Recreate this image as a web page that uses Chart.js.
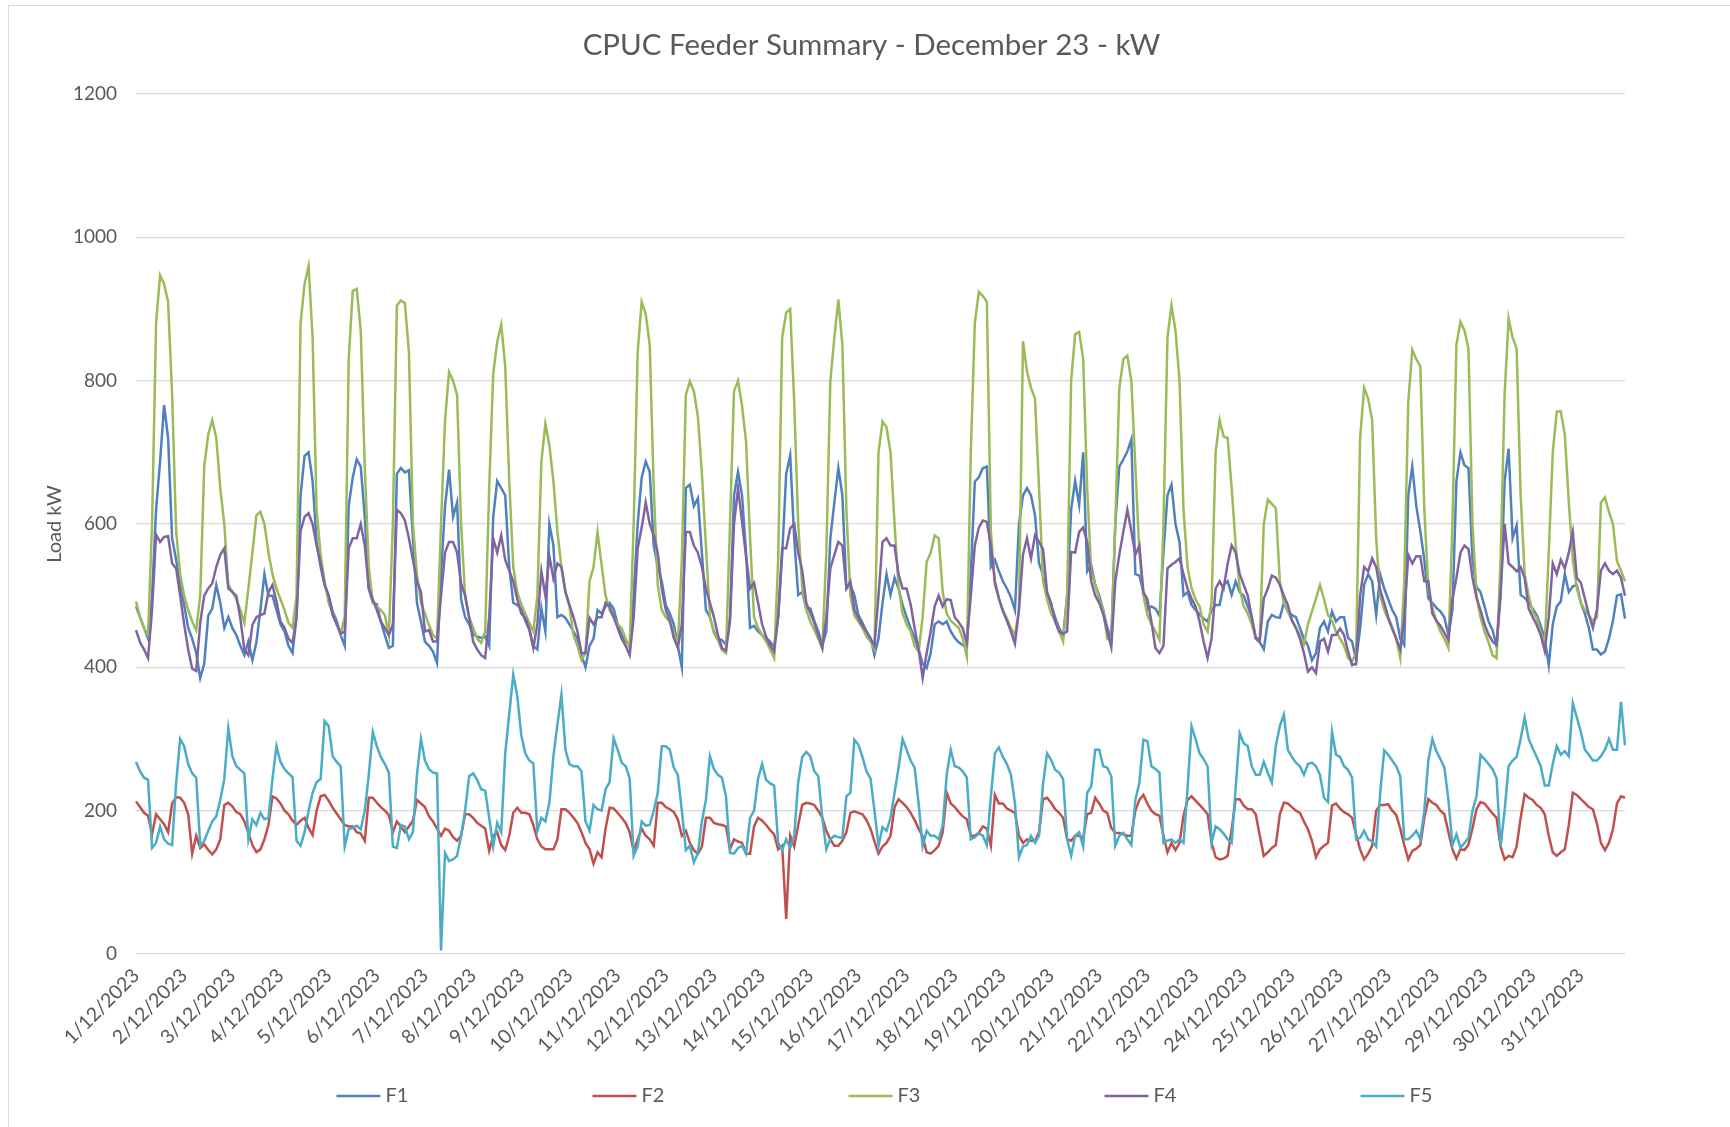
<!DOCTYPE html>
<html>
<head>
<meta charset="utf-8">
<title>CPUC Feeder Summary - December 23 - kW</title>
<script src="https://cdn.jsdelivr.net/npm/chart.js@4.4.0/dist/chart.umd.min.js"></script>
<style>
  html, body { margin: 0; padding: 0; background: #fff; overflow: hidden; }
  #frame { position: absolute; left: 8px; top: 5px; width: 1760px; height: 1160px; border: 1px solid #d9d9d9; box-sizing: border-box; }
  #wrap { position: absolute; left: 0; top: 0; width: 1730px; height: 1127px; }
</style>
</head>
<body>
<div id="frame"></div>
<div id="wrap"><canvas id="chart"></canvas></div>
<script>
// one label per day, data every 2 hours (12 readings per day)
const days = ['1/12/2023','2/12/2023','3/12/2023','4/12/2023','5/12/2023','6/12/2023','7/12/2023','8/12/2023',
  '9/12/2023','10/12/2023','11/12/2023','12/12/2023','13/12/2023','14/12/2023','15/12/2023','16/12/2023',
  '17/12/2023','18/12/2023','19/12/2023','20/12/2023','21/12/2023','22/12/2023','23/12/2023','24/12/2023',
  '25/12/2023','26/12/2023','27/12/2023','28/12/2023','29/12/2023','30/12/2023','31/12/2023'];
const hours = ['00','02','04','06','08','10','12','14','16','18','20','22'];

const f1 = [
  485,470,455,440,500,620,687,766,720,580,550,515,
  487,455,440,420,385,405,472,482,515,490,455,470,
  455,445,430,417,436,410,435,480,530,500,500,480,
  460,450,430,420,470,640,695,700,660,575,540,515,
  500,478,465,445,430,625,665,690,680,610,510,490,
  488,464,445,427,430,670,678,672,675,580,490,464,
  436,430,422,406,530,625,676,610,630,495,470,460,
  446,443,441,443,430,610,660,650,640,540,490,487,
  482,465,452,430,425,482,450,600,570,470,473,469,
  460,450,440,417,400,430,440,480,475,485,490,482,
  460,445,436,431,500,600,665,687,673,570,540,520,
  487,475,460,430,400,650,655,625,636,560,480,470,
  450,440,438,432,470,640,673,640,560,455,458,450,
  445,441,436,428,470,557,670,696,580,501,505,482,
  482,465,450,431,450,580,630,678,640,510,515,500,
  473,462,450,441,417,440,490,530,501,525,510,487,
  470,455,441,425,405,399,420,460,464,460,464,450,
  441,435,431,428,530,659,665,678,680,540,550,534,
  520,510,498,480,600,640,650,640,612,545,529,500,
  487,470,455,443,500,620,660,627,700,534,543,515,
  500,480,455,440,600,680,690,701,718,530,528,505,
  480,485,482,472,560,640,655,600,575,500,505,487,
  480,474,468,464,480,487,487,515,520,501,520,505,
  500,485,470,440,435,425,464,473,470,469,490,478,
  473,470,455,440,430,410,420,455,464,450,478,464,
  470,470,441,436,410,454,515,530,520,473,530,510,
  495,480,470,440,431,640,680,625,590,550,496,490,
  483,478,470,445,480,660,700,682,678,550,512,505,
  485,464,452,430,500,660,705,580,598,501,497,490,
  482,473,458,440,403,460,485,492,530,505,513,515,
  490,475,455,425,425,418,422,440,465,500,502,468
];

const f2 = [
  213,205,197,193,167,195,188,181,170,210,219,218,
  211,195,140,165,148,153,145,139,146,160,208,211,
  206,198,195,185,169,152,142,146,160,180,220,217,
  210,200,195,186,180,186,190,176,166,200,220,222,
  214,204,196,188,180,178,178,170,168,158,218,218,
  211,205,200,194,170,185,178,170,178,186,215,210,
  205,192,185,175,165,175,172,163,158,165,195,195,
  190,183,179,175,144,165,170,152,145,165,197,204,
  197,197,195,180,160,150,146,146,146,160,202,202,
  197,190,183,170,155,146,126,142,135,175,204,203,
  197,190,183,170,144,160,175,165,160,151,211,211,
  205,202,198,188,165,172,155,145,140,150,190,190,
  183,181,180,178,146,160,157,155,140,140,178,190,
  186,180,173,167,146,151,49,165,150,180,208,211,
  210,208,200,190,172,160,151,151,158,170,197,199,
  197,195,187,175,157,140,150,155,165,205,216,211,
  205,197,187,175,164,142,140,145,151,170,225,210,
  205,198,192,188,165,165,169,178,175,151,222,210,
  210,203,200,197,165,155,160,158,158,170,216,218,
  211,202,197,190,160,158,165,165,162,195,197,218,
  210,200,197,176,169,169,167,165,165,200,215,222,
  210,200,195,193,165,142,155,145,155,193,215,220,
  214,208,202,195,155,135,132,133,137,174,216,216,
  207,202,202,195,165,137,142,148,152,195,211,210,
  205,200,197,185,174,158,135,146,151,155,207,210,
  203,198,195,190,167,146,132,140,151,200,208,208,
  209,200,194,175,152,132,144,147,152,190,216,211,
  208,200,195,170,146,133,146,145,153,175,202,212,
  210,203,196,190,150,132,137,135,150,190,223,218,
  215,208,204,195,165,142,137,142,146,180,225,222,
  216,211,205,202,182,155,145,155,174,210,220,218
];

const f3 = [
  492,470,455,445,600,880,947,935,910,780,590,530,
  500,480,464,452,500,680,725,745,720,650,600,515,
  506,495,480,462,510,560,612,617,600,560,530,510,
  495,480,462,455,500,880,935,960,860,620,557,520,
  490,475,460,447,470,830,925,928,870,680,540,490,
  485,480,473,445,600,905,912,908,840,600,530,490,
  475,459,445,440,600,745,812,800,780,600,500,470,
  455,440,434,450,650,810,854,878,820,660,540,505,
  488,475,462,450,500,687,740,710,660,589,540,505,
  485,445,430,410,420,520,540,589,543,500,480,470,
  460,455,440,427,600,840,910,893,850,650,515,480,
  470,464,450,430,550,780,799,785,750,670,570,470,
  448,438,424,420,600,785,800,765,715,580,470,455,
  445,436,425,413,550,860,895,900,770,600,510,480,
  464,452,440,427,560,799,860,913,850,620,500,472,
  464,455,443,436,425,700,743,735,700,600,512,475,
  460,450,430,422,470,547,560,584,580,505,475,465,
  460,455,440,415,700,880,924,918,910,590,515,496,
  480,468,455,445,480,855,813,790,775,650,520,495,
  475,465,450,436,500,800,865,868,830,650,534,515,
  495,480,440,438,600,789,830,835,800,680,560,500,
  473,460,450,438,600,860,905,870,800,620,540,510,
  495,485,460,450,492,700,745,722,720,650,570,510,
  485,475,460,441,441,600,634,628,622,520,490,478,
  465,455,445,432,460,478,496,515,495,473,465,450,
  440,430,413,408,420,720,790,775,745,580,500,480,
  467,453,440,413,520,770,843,830,820,620,510,483,
  465,450,440,427,600,850,882,870,845,600,500,470,
  450,435,417,413,550,780,887,860,845,640,530,500,
  478,468,450,431,560,700,757,757,725,630,550,510,
  490,480,473,464,470,630,637,617,600,548,535,520
];

const f4 = [
  452,435,425,413,480,585,575,582,583,545,538,500,
  460,425,398,395,462,500,510,517,540,557,566,510,
  505,500,468,425,417,459,470,473,475,505,515,492,
  464,455,440,434,470,590,610,615,600,570,545,515,
  500,473,460,447,450,566,580,580,600,570,510,495,
  480,464,455,445,460,620,615,605,580,550,520,505,
  450,452,436,436,500,560,575,575,560,517,500,470,
  436,425,417,413,470,580,560,584,550,535,520,495,
  475,469,454,427,460,534,500,555,524,545,540,505,
  487,470,450,420,420,469,460,470,470,490,485,470,
  455,440,430,417,470,566,595,630,600,584,560,510,
  480,465,441,427,460,589,589,570,560,540,510,490,
  470,445,427,423,464,600,650,603,555,510,518,490,
  460,443,430,422,470,566,566,594,600,560,535,490,
  476,462,445,427,470,538,557,575,570,510,520,480,
  469,458,450,440,430,500,575,580,570,570,530,510,
  510,488,455,425,385,420,450,485,500,485,495,494,
  470,463,454,434,500,570,595,605,603,570,520,496,
  478,465,450,433,480,557,580,552,584,575,565,505,
  490,464,450,447,450,561,560,589,595,575,520,500,
  490,474,450,428,520,557,589,620,590,557,570,505,
  495,464,427,420,430,538,543,547,552,530,510,496,
  485,464,436,413,441,510,520,510,545,570,560,530,
  515,500,470,441,436,496,510,528,525,515,500,487,
  466,455,440,420,394,400,392,436,440,422,445,445,
  454,445,422,403,405,500,540,534,552,540,508,490,
  470,455,440,425,470,557,545,555,555,520,520,475,
  465,458,448,438,495,525,560,570,565,525,497,480,
  460,446,436,431,505,600,545,540,534,540,525,482,
  470,459,445,423,470,545,530,550,538,560,589,525,
  518,496,473,455,480,535,545,535,530,535,525,500
];

const f5 = [
  268,255,246,243,148,155,178,160,154,152,238,300,
  290,265,252,246,151,158,172,185,192,215,244,315,
  276,262,257,252,160,188,180,197,188,190,244,290,
  268,258,252,247,158,151,170,200,225,240,244,325,
  318,276,268,262,150,174,176,179,174,200,250,310,
  290,275,265,253,150,148,180,178,160,170,250,300,
  270,258,253,252,5,141,130,132,137,165,200,248,
  252,243,230,228,190,150,183,170,280,335,390,360,
  305,280,270,266,172,190,185,211,276,320,362,285,
  265,262,262,255,185,172,208,202,200,230,240,301,
  285,267,262,245,137,150,185,179,180,200,225,290,
  290,285,260,250,200,145,151,128,141,185,215,276,
  258,250,246,220,141,140,148,151,140,190,200,245,
  265,243,238,235,155,145,160,148,165,240,275,282,
  276,255,248,190,146,160,165,163,162,220,225,299,
  292,275,255,245,200,151,177,172,190,225,260,300,
  285,270,260,210,150,172,165,165,160,180,250,285,
  262,260,255,246,160,163,168,165,152,220,280,288,
  275,265,250,210,135,150,152,165,155,165,237,280,
  271,257,253,244,160,137,165,170,150,225,234,285,
  285,262,260,248,151,165,169,160,152,215,239,299,
  297,262,258,253,155,158,160,155,160,155,230,318,
  300,280,272,262,155,178,174,168,160,155,232,308,
  294,290,262,250,250,268,253,239,290,318,334,285,
  275,267,262,250,265,267,262,250,218,212,310,278,
  275,262,257,246,160,162,172,160,157,150,224,284,
  278,270,262,248,160,160,165,172,160,200,270,300,
  283,272,260,215,152,167,148,155,162,200,220,278,
  272,265,258,245,150,200,262,270,275,300,330,300,
  287,275,262,235,235,265,290,278,283,276,350,330,
  310,285,278,270,270,276,285,300,285,285,352,291
];

const seriesNames = ['F1', 'F2', 'F3', 'F4', 'F5'];
const seriesColors = ['#4F81BD', '#C0504D', '#9BBB59', '#8064A2', '#4BACC6'];
const yTicks = [0, 200, 400, 600, 800, 1000, 1200];
const chartTitle = 'CPUC Feeder Summary - December 23 - kW';

const labels = [];
days.forEach(d => hours.forEach(h => labels.push(d + ' ' + h + ':00')));

const textColor = '#595959';
Chart.defaults.font.family = 'Lato, "Open Sans", sans-serif';
Chart.defaults.color = textColor;

// title and legend drawn by hand: the original centres them on the plot and spreads the legend wide
const decorPlugin = {
  id: 'decor',
  afterDraw(chart) {
    const ctx = chart.ctx;
    const area = chart.chartArea;
    const mid = (area.left + area.right) / 2;
    ctx.save();
    ctx.fillStyle = textColor;
    ctx.font = '29.5px Lato';
    ctx.textAlign = 'center';
    ctx.textBaseline = 'middle';
    ctx.fillText(chartTitle, mid - 9, 45);

    const step = 256, lineLen = 44;
    const startX = mid - (4 * step + lineLen + 28) / 2 + 4;
    const y = 1096;
    ctx.font = '20px Lato';
    ctx.textAlign = 'left';
    chart.data.datasets.forEach((ds, i) => {
      const x = startX + i * step;
      ctx.strokeStyle = ds.borderColor;
      ctx.lineWidth = 2.5;
      ctx.beginPath();
      ctx.moveTo(x, y);
      ctx.lineTo(x + lineLen, y);
      ctx.stroke();
      ctx.fillStyle = textColor;
      ctx.fillText(ds.label, x + lineLen + 5, y);
    });
    ctx.restore();
  }
};

const allData = [f1, f2, f3, f4, f5];
const datasets = allData.map((arr, i) => ({
  label: seriesNames[i],
  data: arr,
  borderColor: seriesColors[i],
  backgroundColor: seriesColors[i],
  borderWidth: 2.5,
  pointRadius: 0,
  tension: 0,
  fill: false,
  order: 5 - i
}));

new Chart(document.getElementById('chart'), {
  type: 'line',
  data: { labels: labels, datasets: datasets },
  plugins: [decorPlugin],
  options: {
    responsive: true,
    maintainAspectRatio: false,
    animation: false,
    devicePixelRatio: 1,
    layout: { padding: { left: 39, right: 105, top: 94, bottom: 0 } },
    plugins: {
      legend: { display: false },
      tooltip: { enabled: false },
      title: { display: false }
    },
    scales: {
      x: {
        grid: { display: false, drawTicks: false },
        border: { display: false },
        ticks: {
          autoSkip: false,
          minRotation: 45,
          maxRotation: 45,
          padding: 10,
          color: textColor,
          font: { size: 19.5 },
          callback: function (value, index) {
            return index % hours.length === 0 ? days[index / hours.length] : null;
          }
        },
        afterFit: function (scale) { scale.height = 173; }
      },
      y: {
        min: yTicks[0],
        max: yTicks[yTicks.length - 1],
        grid: { color: '#d9d9d9', lineWidth: 1.3, drawTicks: false },
        border: { display: false },
        ticks: {
          stepSize: 200,
          padding: 19,
          color: textColor,
          font: { size: 19 },
          callback: v => String(v)
        },
        title: {
          display: true,
          text: 'Load kW',
          color: textColor,
          font: { size: 20 },
          padding: { top: 4, bottom: 4 }
        },
        afterFit: function (scale) { scale.width = 97; }
      }
    }
  }
});
</script>
</body>
</html>
